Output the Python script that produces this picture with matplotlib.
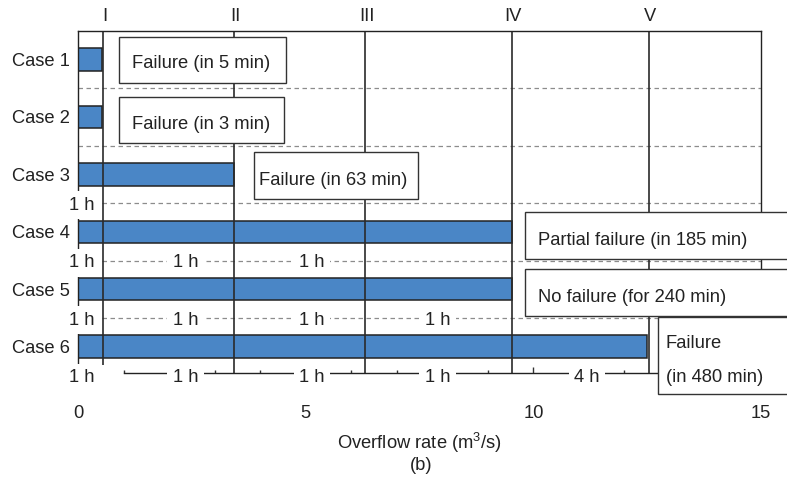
import matplotlib
matplotlib.use("Agg")
import matplotlib.pyplot as plt
from matplotlib.patches import Rectangle
from matplotlib.ticker import MultipleLocator, FixedLocator

plt.rcParams["font.family"] = ["Liberation Sans", "DejaVu Sans"]
plt.rcParams["mathtext.fontset"] = "custom"
plt.rcParams["mathtext.rm"] = "Liberation Sans"
plt.rcParams["mathtext.it"] = "Liberation Sans:italic"

# ---- data -------------------------------------------------------------
cases = ["Case 1", "Case 2", "Case 3", "Case 4", "Case 5", "Case 6"]
max_rate = [0.51, 0.51, 3.41, 9.52, 9.52, 12.49]          # m3/s reached
stage_names = ["I", "II", "III", "IV", "V"]
stage_rates = [0.55, 3.41, 6.30, 9.52, 12.54]            # m3/s per stage
outcomes = [
    "Failure (in 5 min)",
    "Failure (in 3 min)",
    "Failure (in 63 min)",
    "Partial failure (in 185 min)",
    "No failure (for 240 min)",
    "Failure\n(in 480 min)",
]
# hold durations of the completed stages, listed under each case
hold_times = [
    [],
    [],
    ["1 h"],
    ["1 h", "1 h", "1 h"],
    ["1 h", "1 h", "1 h", "1 h"],
    ["1 h", "1 h", "1 h", "1 h", "4 h"],
]
x_ticks = [0, 5, 10, 15]

# ---- layout -----------------------------------------------------------
FS = 13.2
TXT = "#222222"
BAR = "#4a86c6"
hold_x = [0.07, 2.35, 5.13, 7.89, 11.18]
stage_line_end = [6.32, 6.46, 6.46, 6.46, 6.46]
box_gap = [0.39, 0.39, 0.44, 0.30, 0.30, 0.24]
box_w = [3.66, 3.63, 3.61, 6.0, 6.0, 6.0]
box_top = [-0.397, -0.353, -0.395, -0.345, -0.353, -0.523]
box_bot = [0.414, 0.459, 0.428, 0.473, 0.465, 0.823]
text_pad = [0.28, 0.29, 0.11, 0.29, 0.29, 0.18]
text_base = [0.153, 0.215, 0.185, 0.229, 0.216, 0.022]
line_step = 0.587

fig = plt.figure(figsize=(7.87, 4.83), dpi=100)
W, H = 787, 483
ax = fig.add_axes([78.3 / W, 1 - 373.1 / H, (761 - 78.3) / W, (373.1 - 30.8) / H])
ax.set_xlim(0, 15)
ax.set_ylim(6.46, 0.5)

ypos = list(range(1, len(cases) + 1))

# separators between cases
ax.hlines([1.5, 2.5, 3.5, 4.5, 5.5], 0, 15, colors="#8c8c8c",
          linestyles=(0, (3.6, 2.8)), lw=0.9, zorder=1)

# bars
ax.barh(ypos, max_rate, height=0.39, color=BAR, edgecolor="#222222",
        lw=1.1, zorder=2)

# stage lines with roman numerals on top
for name, xr, yend in zip(stage_names, stage_rates, stage_line_end):
    ax.vlines(xr, 0.5, yend, colors="#2a2a2a", lw=1.2, zorder=2.3)
    ax.annotate(name, (xr, 1), xycoords=("data", "axes fraction"),
                xytext=(1.5, 10), textcoords="offset pixels",
                ha="center", va="baseline", fontsize=FS, color=TXT)

# hold-time labels under each case
for yc, holds in zip(ypos, hold_times):
    for xh, lab in zip(hold_x, holds):
        ax.text(xh, yc + 0.5 + 0.117, lab, ha="center", va="baseline",
                fontsize=FS, color=TXT, zorder=3.5, clip_on=False,
                bbox=dict(boxstyle="square,pad=0.3", fc="white", ec="none"))

# outcome boxes
for i, (yc, xe, txt) in enumerate(zip(ypos, max_rate, outcomes)):
    x0 = xe + box_gap[i]
    rect = Rectangle((x0, yc + box_top[i]), box_w[i], box_bot[i] - box_top[i],
                     fc="white", ec="#333333", lw=1.0, zorder=4, clip_on=False)
    ax.add_patch(rect)
    for k, line in enumerate(txt.split("\n")):
        ax.text(x0 + text_pad[i], yc + text_base[i] + k * line_step, line,
                ha="left", va="baseline", fontsize=FS, color=TXT,
                zorder=5, clip_on=False)

# axes styling
for side in ["top", "left", "right", "bottom"]:
    ax.spines[side].set_color("#222222")
    ax.spines[side].set_linewidth(1.0)
ax.spines["bottom"].set_bounds(1, 15)

ax.xaxis.set_major_locator(FixedLocator(x_ticks))
ax.xaxis.set_minor_locator(MultipleLocator(1))
ax.set_xticklabels([str(t) for t in x_ticks])
ax.tick_params(axis="x", which="major", direction="in", length=4, width=1,
               pad=23, labelsize=FS, labelcolor=TXT, color="#333333")
ax.tick_params(axis="x", which="minor", direction="in", length=2.5, width=1,
               color="#333333")
ax.set_yticks(ypos)
ax.set_yticklabels(cases)
ax.tick_params(axis="y", direction="in", length=2.5, width=1, pad=5.8,
               labelsize=FS, labelcolor=TXT, color="#333333")

ax.set_xlabel("Overflow rate (m$^3$/s)", fontsize=FS, color=TXT)
ax.xaxis.set_label_coords(0.5, -0.168)
fig.text(421 / W, 1 - 466 / H, "(b)", ha="center", va="center",
         fontsize=FS, color=TXT)

fig.savefig("out.png", dpi=100)
